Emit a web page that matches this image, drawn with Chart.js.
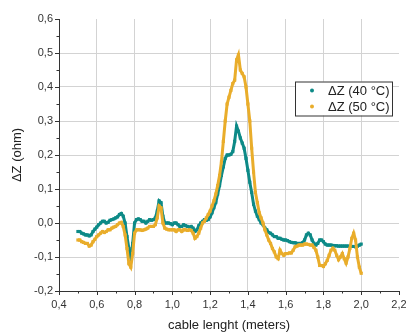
<!DOCTYPE html>
<html>
<head>
<meta charset="utf-8">
<script src="https://cdn.jsdelivr.net/npm/chart.js@4"></script>
<style>
  html, body { margin: 0; padding: 0; background: #fff; }
  #wrap { width: 406px; height: 333px; }
</style>
</head>
<body>
<div id="wrap"><canvas id="myChart" width="406" height="333"></canvas></div>
<script>
// longueurs de cable (m)
const lengths = [
  0.50,0.51,0.52,0.53,0.54,0.55,0.56,0.57,0.58,0.59,
  0.60,0.61,0.62,0.63,0.64,0.65,0.66,0.67,0.68,0.69,
  0.70,0.71,0.72,0.73,0.74,0.75,0.76,0.77,0.78,0.79,
  0.80,0.81,0.82,0.83,0.84,0.85,0.86,0.87,0.88,0.89,
  0.90,0.91,0.92,0.93,0.94,0.95,0.96,0.97,0.98,0.99,
  1.00,1.01,1.02,1.03,1.04,1.05,1.06,1.07,1.08,1.09,
  1.10,1.11,1.12,1.13,1.14,1.15,1.16,1.17,1.18,1.19,
  1.20,1.21,1.22,1.23,1.24,1.25,1.26,1.27,1.28,1.29,
  1.30,1.31,1.32,1.33,1.34,1.35,1.36,1.37,1.38,1.39,
  1.40,1.41,1.42,1.43,1.44,1.45,1.46,1.47,1.48,1.49,
  1.50,1.51,1.52,1.53,1.54,1.55,1.56,1.57,1.58,1.59,
  1.60,1.61,1.62,1.63,1.64,1.65,1.66,1.67,1.68,1.69,
  1.70,1.71,1.72,1.73,1.74,1.75,1.76,1.77,1.78,1.79,
  1.80,1.81,1.82,1.83,1.84,1.85,1.86,1.87,1.88,1.89,
  1.90,1.91,1.92,1.93,1.94,1.95,1.96,1.97,1.98,1.99,
  2.00
];

// deltaZ a 40 °C
const dz40 = [
  -0.025,-0.025,-0.03,-0.032,-0.035,-0.035,-0.038,-0.035,-0.025,-0.018,
  -0.012,-0.005,0.0,0.005,0.005,0.0,0.002,0.008,0.01,0.012,
  0.015,0.018,0.025,0.028,0.02,0.0,-0.04,-0.075,-0.1,-0.06,
  0.0,0.01,0.012,0.01,0.005,0.005,0.0,0.005,0.01,0.008,
  0.01,0.015,0.035,0.065,0.06,0.02,0.0,0.0,0.0,-0.002,
  -0.005,0.0,0.0,-0.005,-0.01,-0.01,-0.005,-0.008,-0.01,-0.012,
  -0.01,-0.015,-0.025,-0.02,-0.008,0.0,0.005,0.01,0.008,0.01,
  0.018,0.03,0.045,0.06,0.085,0.11,0.14,0.165,0.19,0.2,
  0.2,0.202,0.21,0.24,0.285,0.27,0.25,0.235,0.22,0.19,
  0.155,0.12,0.09,0.055,0.035,0.02,0.01,0.0,-0.005,-0.015,
  -0.02,-0.028,-0.03,-0.035,-0.04,-0.04,-0.045,-0.045,-0.048,-0.05,
  -0.05,-0.052,-0.055,-0.057,-0.058,-0.058,-0.06,-0.06,-0.06,-0.058,
  -0.05,-0.035,-0.03,-0.035,-0.05,-0.06,-0.065,-0.06,-0.05,-0.05,
  -0.055,-0.062,-0.065,-0.065,-0.065,-0.066,-0.067,-0.067,-0.068,-0.068,
  -0.068,-0.068,-0.068,-0.068,-0.069,-0.069,-0.069,-0.07,-0.068,-0.065,
  -0.062
];

// deltaZ a 50 °C
const dz50 = [
  -0.05,-0.05,-0.055,-0.057,-0.06,-0.06,-0.068,-0.065,-0.055,-0.048,
  -0.04,-0.035,-0.03,-0.025,-0.028,-0.025,-0.02,-0.02,-0.015,-0.012,
  -0.01,-0.005,0.0,0.002,-0.01,-0.035,-0.075,-0.12,-0.13,-0.09,
  -0.03,-0.02,-0.02,-0.02,-0.022,-0.02,-0.018,-0.015,-0.01,-0.01,
  -0.01,-0.005,0.015,0.05,0.045,0.0,-0.015,-0.018,-0.02,-0.02,
  -0.02,-0.02,-0.025,-0.02,-0.02,-0.025,-0.02,-0.02,-0.022,-0.02,
  -0.022,-0.03,-0.045,-0.04,-0.03,-0.015,0.0,0.005,0.015,0.025,
  0.035,0.05,0.065,0.085,0.11,0.14,0.18,0.24,0.3,0.35,
  0.37,0.39,0.41,0.42,0.48,0.495,0.45,0.44,0.43,0.4,
  0.35,0.3,0.22,0.15,0.09,0.06,0.03,0.015,0.0,-0.02,
  -0.035,-0.05,-0.06,-0.075,-0.085,-0.1,-0.105,-0.08,-0.09,-0.095,
  -0.09,-0.09,-0.088,-0.088,-0.08,-0.07,-0.068,-0.065,-0.065,-0.065,
  -0.062,-0.062,-0.063,-0.065,-0.065,-0.072,-0.08,-0.1,-0.125,-0.125,
  -0.128,-0.12,-0.11,-0.095,-0.08,-0.074,-0.08,-0.095,-0.108,-0.1,
  -0.09,-0.105,-0.118,-0.1,-0.075,-0.045,-0.03,-0.05,-0.1,-0.13,
  -0.148
];

const seriesLabels = ['\u0394Z (40 \u00b0C)', '\u0394Z (50 \u00b0C)'];
const tealColor = '#0d8a87';
const orangeColor = '#e9ad2b';

function toPoints(ys) {
  return lengths.map((x, i) => ({ x: x, y: ys[i] }));
}

function fmt(v) {
  let s = (Math.abs(v) < 1e-9 ? 0 : v).toFixed(1);
  return s.replace('.', ',');
}

// graduations (majeures + mineures) a l'exterieur des axes
const axisTicks = {
  id: 'axisTicks',
  afterDraw(chart) {
    const ctx = chart.ctx;
    const xs = chart.scales.x, ys = chart.scales.y;
    const a = chart.chartArea;
    ctx.save();
    ctx.strokeStyle = '#333';
    ctx.lineWidth = 1;
    ctx.beginPath();
    for (let i = 0; i <= 18; i++) {
      const v = 0.4 + i * 0.1;
      const px = Math.round(xs.getPixelForValue(v)) + 0.5;
      const len = (i % 2 === 0) ? 4 : 2.5;
      ctx.moveTo(px, a.bottom);
      ctx.lineTo(px, a.bottom + len);
    }
    for (let i = 0; i <= 16; i++) {
      const v = -0.2 + i * 0.05;
      const py = Math.round(ys.getPixelForValue(v)) + 0.5;
      const len = (i % 2 === 0) ? 4 : 2.5;
      ctx.moveTo(a.left, py);
      ctx.lineTo(a.left - len, py);
    }
    ctx.stroke();
    ctx.restore();
  }
};

// legende encadree dans le graphique
const boxLegend = {
  id: 'boxLegend',
  afterDraw(chart) {
    const ctx = chart.ctx;
    const a = chart.chartArea;
    const bx = a.right - 104, by = 81.5, bw = 97, bh = 34;
    ctx.save();
    ctx.fillStyle = '#fff';
    ctx.fillRect(bx, by, bw, bh);
    ctx.strokeStyle = '#333';
    ctx.lineWidth = 1;
    ctx.strokeRect(bx + 0.5, by + 0.5, bw, bh);
    ctx.font = '13px "Liberation Sans", Arial, sans-serif';
    ctx.textBaseline = 'middle';
    chart.data.datasets.forEach((ds, i) => {
      const cy = by + 9 + i * 16;
      ctx.fillStyle = ds.borderColor;
      ctx.beginPath();
      ctx.arc(bx + 17, cy, 2, 0, Math.PI * 2);
      ctx.fill();
      ctx.fillStyle = '#222';
      ctx.fillText(ds.label, bx + 33, cy + 0.5);
    });
    ctx.restore();
  }
};

const config = {
  type: 'line',
  data: {
    datasets: [
      {
        label: seriesLabels[0],
        data: toPoints(dz40),
        borderColor: tealColor,
        backgroundColor: tealColor,
        borderWidth: 3,
        pointStyle: 'rect',
        pointRadius: 2.2,
        pointBorderWidth: 0,
        tension: 0,
        order: 1
      },
      {
        label: seriesLabels[1],
        data: toPoints(dz50),
        borderColor: orangeColor,
        backgroundColor: orangeColor,
        borderWidth: 3,
        pointStyle: 'rect',
        pointRadius: 2.2,
        pointBorderWidth: 0,
        tension: 0,
        order: 0
      }
    ]
  },
  options: {
    responsive: false,
    animation: false,
    layout: { padding: { top: 19, right: 7, left: 0, bottom: 0 } },
    plugins: { legend: { display: false }, tooltip: { enabled: false } },
    scales: {
      x: {
        type: 'linear',
        min: 0.4,
        max: 2.2,
        ticks: {
          stepSize: 0.2,
          padding: 7,
          color: '#333',
          font: { family: '"Liberation Sans", Arial, sans-serif', size: 11 },
          callback: (v) => fmt(v)
        },
        grid: {
          drawTicks: false,
          color: (c) => (c.index === 0 || c.index === 9) ? 'rgba(0,0,0,0)' : '#d3d3d3'
        },
        border: { color: '#333', width: 1 },
        title: {
          display: true,
          text: 'cable lenght (meters)',
          color: '#222',
          font: { family: '"Liberation Sans", Arial, sans-serif', size: 13 },
          padding: { top: 0, bottom: 0 }
        },
        afterFit: (s) => { s.height = 42; s.paddingLeft = 0; s.paddingRight = 0; }
      },
      y: {
        min: -0.2,
        max: 0.6,
        ticks: {
          stepSize: 0.1,
          padding: 6,
          color: '#333',
          font: { family: '"Liberation Sans", Arial, sans-serif', size: 11 },
          callback: (v) => fmt(v)
        },
        grid: {
          drawTicks: false,
          color: (c) => (c.index === 0 || c.index === 8) ? 'rgba(0,0,0,0)' : '#d3d3d3'
        },
        border: { color: '#333', width: 1 },
        title: {
          display: true,
          text: '\u0394Z (ohm)',
          color: '#222',
          font: { family: '"Liberation Sans", Arial, sans-serif', size: 13 },
          padding: { top: 10, bottom: 0 }
        },
        afterFit: (s) => { s.width = 59; s.paddingTop = 0; s.paddingBottom = 0; }
      }
    }
  },
  plugins: [axisTicks, boxLegend]
};

window.addEventListener('load', (event) => {
  const myChart = new Chart(document.getElementById('myChart'), config);
});
</script>
</body>
</html>
